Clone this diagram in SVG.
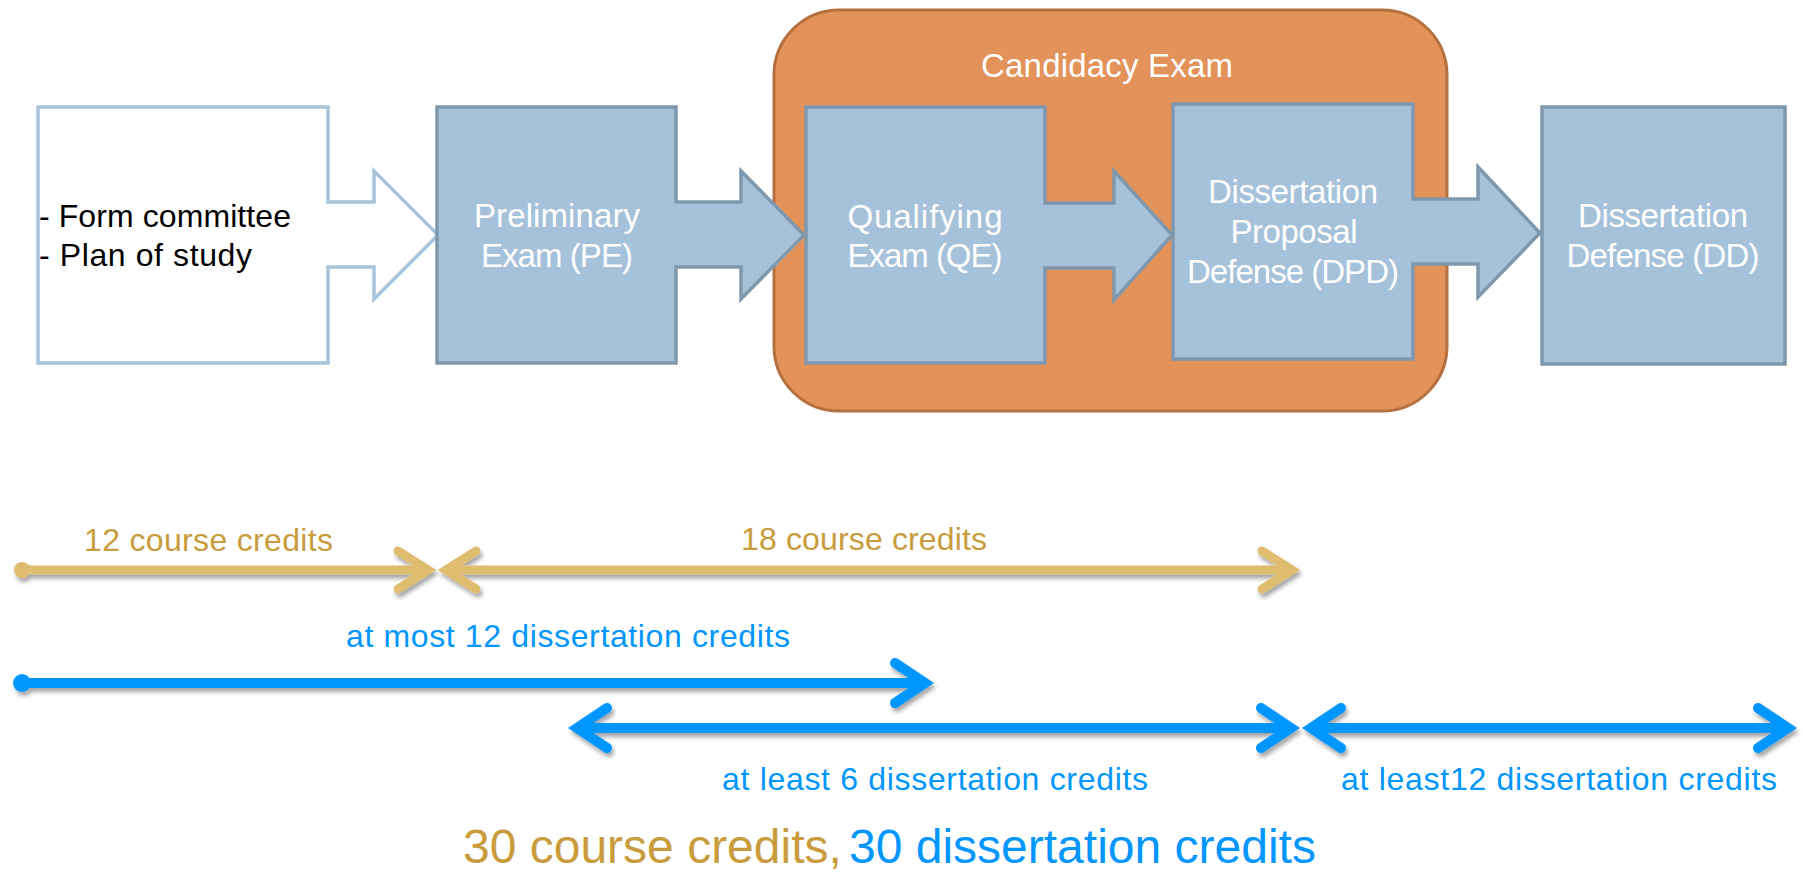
<svg xmlns="http://www.w3.org/2000/svg" width="1803" height="872" viewBox="0 0 1803 872">
<style>
  .box { fill: #a5c2da; stroke: #7f98ad; stroke-width: 3.5; stroke-linejoin: miter; }
  .lbl { font-family: "Liberation Sans", Arial, sans-serif; font-size: 33px; fill: #ffffff; text-anchor: middle; }
  .blk { font-family: "Liberation Sans", Arial, sans-serif; font-size: 32px; fill: #000000; }
  .gt { font-family: "Liberation Sans", Arial, sans-serif; font-size: 32px; fill: #c89c3c; }
  .bt { font-family: "Liberation Sans", Arial, sans-serif; font-size: 32px; fill: #0096ff; }
  .gl { stroke: #dfbd6f; stroke-width: 9; fill: none; }
  .bl { stroke: #0096ff; stroke-width: 10; fill: none; }
</style>
<defs>
  <filter id="sh" x="-5%" y="-50%" width="110%" height="200%">
    <feDropShadow dx="2" dy="4" stdDeviation="2" flood-color="#000" flood-opacity="0.35"/>
  </filter>
  <marker id="chG" markerUnits="userSpaceOnUse" viewBox="-50 -30 60 60" refX="0" refY="0" markerWidth="60" markerHeight="60" orient="auto-start-reverse" overflow="visible">
    <path d="M-30,-19 L0,0 L-30,19" fill="none" stroke="#dfbd6f" stroke-width="9" stroke-linecap="round" stroke-linejoin="miter"/>
  </marker>
  <marker id="chB" markerUnits="userSpaceOnUse" viewBox="-50 -30 60 60" refX="0" refY="0" markerWidth="60" markerHeight="60" orient="auto-start-reverse" overflow="visible">
    <path d="M-30,-20 L0,0 L-30,20" fill="none" stroke="#0096ff" stroke-width="10" stroke-linecap="round" stroke-linejoin="miter"/>
  </marker>
</defs>
<rect width="1803" height="872" fill="#ffffff"/>

<g id="candidacy">
  <rect x="774" y="10" width="673" height="401" rx="65" ry="65" fill="#e3935a" stroke="#b5703f" stroke-width="3"/>
  <text class="lbl" x="1107" y="77" textLength="252">Candidacy Exam</text>
</g>

<g id="start">
  <path d="M38,107 H328 V202 H374 V171 L438,235 L374,299 V267 H328 V363 H38 Z" fill="#ffffff" stroke="#a7c4dd" stroke-width="3.5"/>
  <text class="blk" x="39" y="227" textLength="252">- Form committee</text>
  <text class="blk" x="39" y="266" textLength="213">- Plan of study</text>
</g>

<g id="pe">
  <path class="box" d="M437,107 H676 V202 H741 V171 L804,235 L741,299 V267 H676 V363 H437 Z"/>
  <text class="lbl" x="557" y="227" textLength="166">Preliminary</text>
  <text class="lbl" x="557" y="267" textLength="152">Exam (PE)</text>
</g>

<g id="qe">
  <path class="box" d="M806,107 H1045 V203 H1114 V171 L1172,235 L1114,300 V268 H1045 V363 H806 Z"/>
  <text class="lbl" x="925" y="228" textLength="155">Qualifying</text>
  <text class="lbl" x="925" y="267" textLength="155">Exam (QE)</text>
</g>

<g id="dpd">
  <path class="box" d="M1173,104 H1413 V199 H1478 V167 L1540,233 L1478,297 V264 H1413 V359 H1173 Z"/>
  <text class="lbl" x="1293" y="203" textLength="170">Dissertation</text>
  <text class="lbl" x="1294" y="243" textLength="127">Proposal</text>
  <text class="lbl" x="1293" y="283" textLength="212">Defense (DPD)</text>
</g>

<g id="dd">
  <rect class="box" x="1542" y="107" width="243" height="257"/>
  <text class="lbl" x="1663" y="227" textLength="170">Dissertation</text>
  <text class="lbl" x="1663" y="267" textLength="193">Defense (DD)</text>
</g>

<g id="connectors" filter="url(#sh)">
  <circle cx="22" cy="570" r="8" fill="#dfbd6f"/>
  <path class="gl" d="M22,570 H428" marker-end="url(#chG)"/>
  <path class="gl" d="M446,570 H1292" marker-start="url(#chG)" marker-end="url(#chG)"/>
  <circle cx="22" cy="683" r="9" fill="#0096ff"/>
  <path class="bl" d="M22,683 H925" marker-end="url(#chB)"/>
  <path class="bl" d="M577,728 H1291" marker-start="url(#chB)" marker-end="url(#chB)"/>
  <path class="bl" d="M1311,728 H1788" marker-start="url(#chB)" marker-end="url(#chB)"/>
</g>

<g id="labels">
  <text class="gt" x="84" y="551" textLength="249">12 course credits</text>
  <text class="gt" x="741" y="550" textLength="246">18 course credits</text>
  <text class="bt" x="346" y="647" textLength="444">at most 12 dissertation credits</text>
  <text class="bt" x="722" y="790" textLength="426">at least 6 dissertation credits</text>
  <text class="bt" x="1341" y="790" textLength="436">at least12 dissertation credits</text>
  <text x="463" y="863" style="font-family: 'Liberation Sans', Arial, sans-serif; font-size: 48px;"><tspan fill="#c89c3c">30 course credits,</tspan><tspan fill="#0096ff" x="849">30 dissertation credits</tspan></text>
</g>
</svg>
